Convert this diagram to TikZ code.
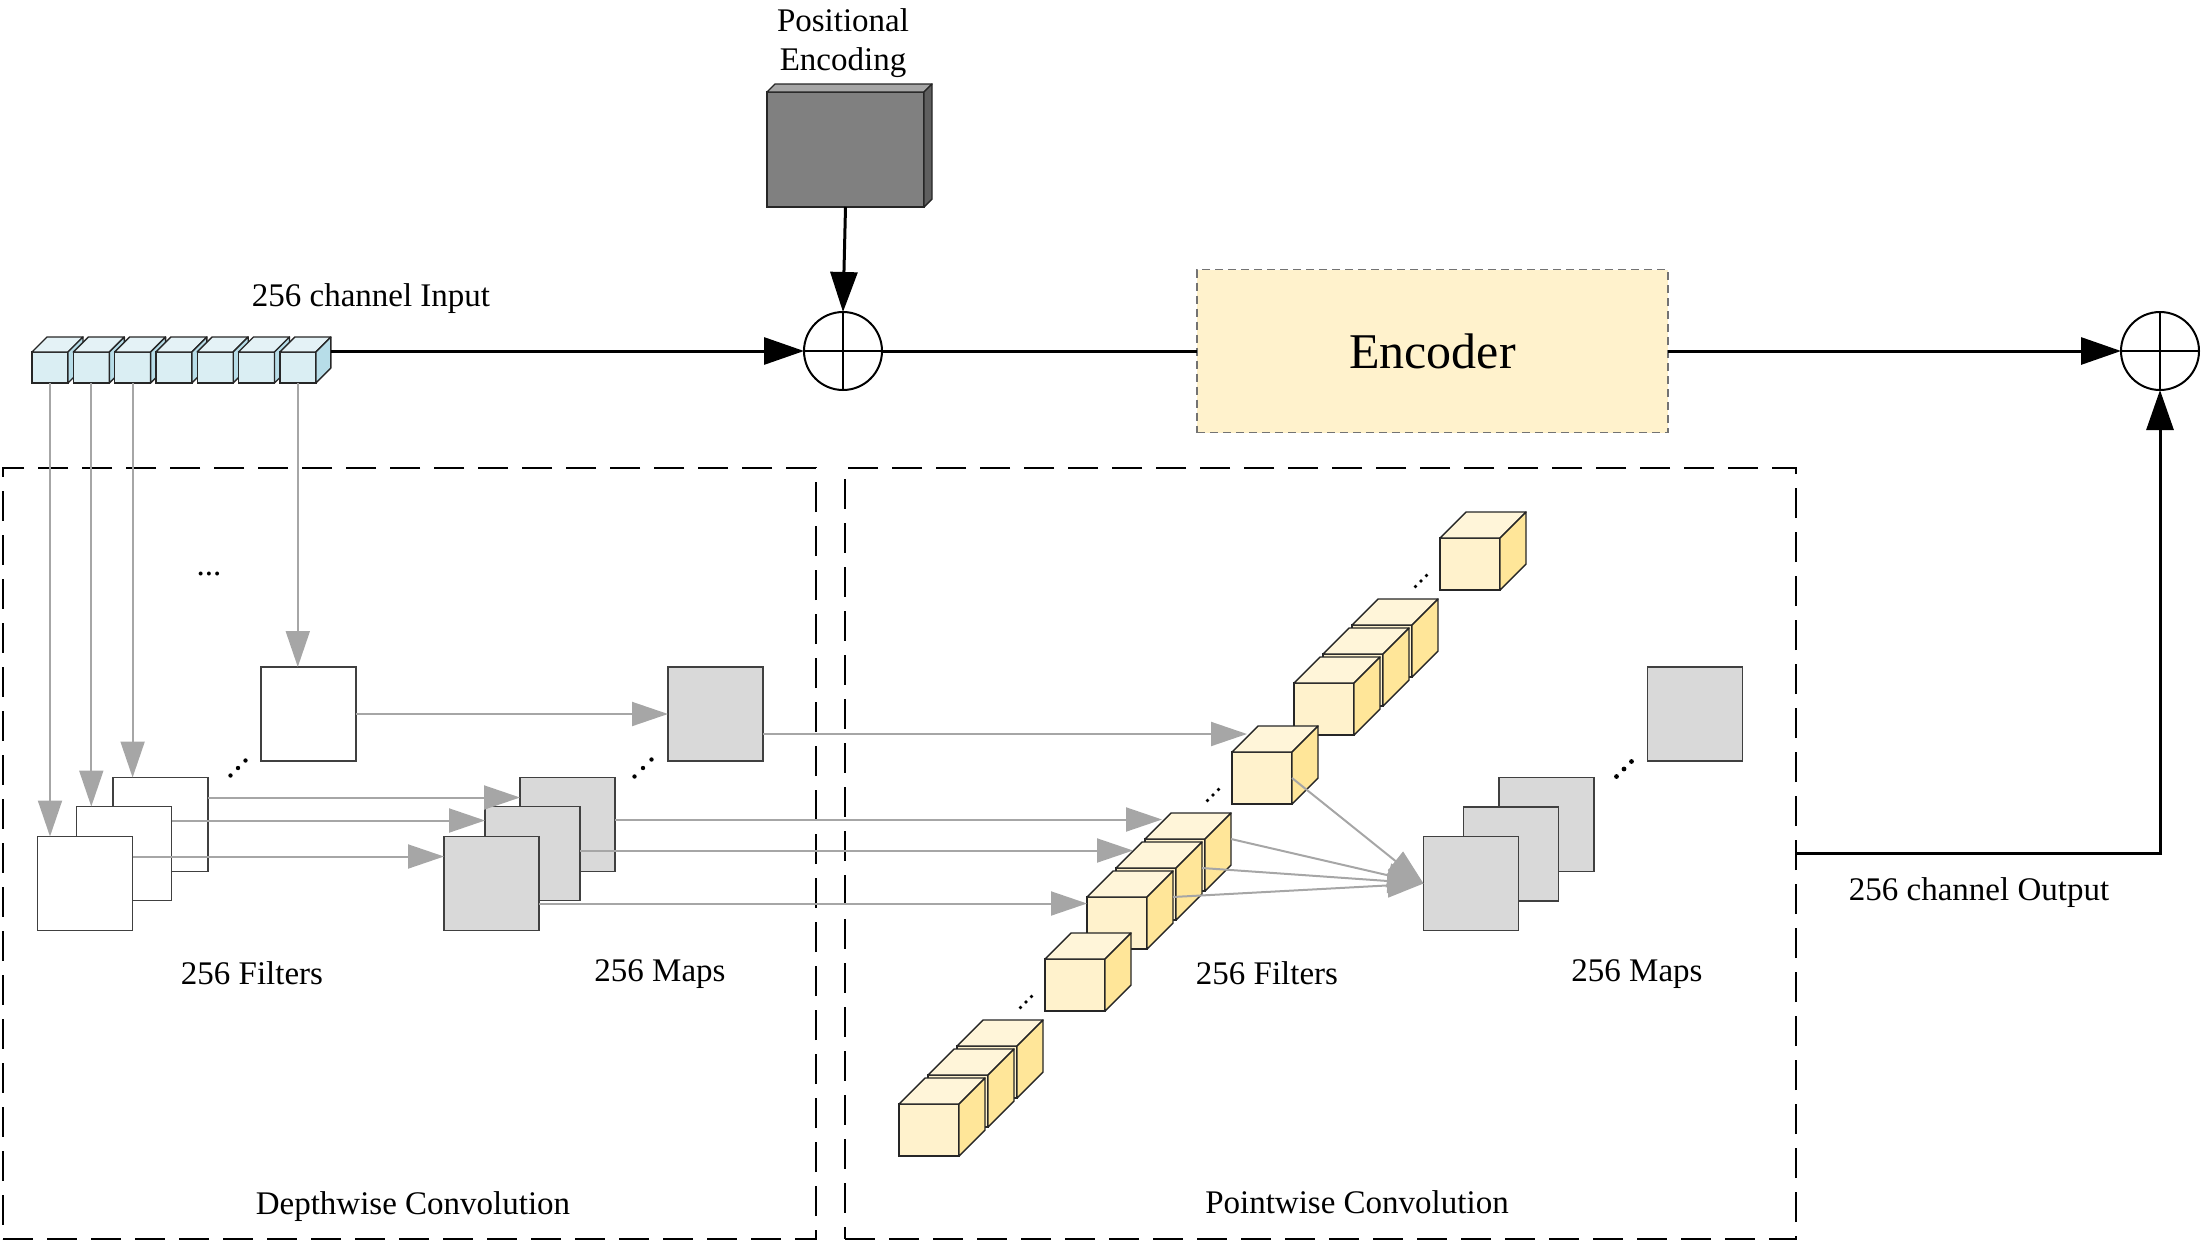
\documentclass[tikz,border=0pt]{standalone}
\usepackage{fontspec}
\setmainfont{Liberation Serif}
\usetikzlibrary{arrows.meta,calc}
\definecolor{inF}{HTML}{DAEEF3}
\definecolor{inT}{HTML}{E4F2F6}
\definecolor{inS}{HTML}{B7DDE8}
\definecolor{yF}{HTML}{FFF2CC}
\definecolor{yT}{HTML}{FFF5D9}
\definecolor{yS}{HTML}{FFE699}
\definecolor{mapG}{HTML}{D9D9D9}
\definecolor{arrG}{HTML}{A6A6A6}
\definecolor{peF}{HTML}{808080}
\definecolor{peT}{HTML}{A6A6A6}
\definecolor{peS}{HTML}{5F5F5F}
\newcommand{\mkcube}[9]{%
  \node[face, fill=#7, minimum width=#4*0.5pt, minimum height=#5*0.5pt, anchor=north west] (#1) at (#2,#3) {};
  \draw[facel, fill=#8] (#1.north west) -- ++(#6,-#6) -- ($(#1.north east)+(#6,-#6)$) -- (#1.north east) -- cycle;
  \draw[facel, fill=#9] (#1.north east) -- ++(#6,-#6) -- ($(#1.south east)+(#6,-#6)$) -- (#1.south east) -- cycle;
}
\newcommand{\diagdots}[4]{\foreach \k in {-1,0,1} {\fill ({#1+\k*#3},{#2-\k*#3}) circle (#4);}}
\tikzset{
  face/.style={draw=black!85, line width=0.7pt, inner sep=0pt, outer sep=0pt},
  facel/.style={draw=black!85, line width=0.7pt, line join=round},
  sq/.style={draw=black!75, line width=0.8pt, minimum width=47.5pt, minimum height=47pt, inner sep=0pt, outer sep=0pt},
  wbox/.style={sq, fill=white},
  gbox/.style={sq, fill=mapG},
  garr/.style={draw=arrG, line width=1pt, -{Triangle[length=18pt,width=12pt]}},
  gline/.style={draw=arrG, line width=1pt},
  barr/.style={line width=1.5pt, -{Triangle[length=20pt,width=13.5pt]}},
  bline/.style={line width=1.5pt},
  region/.style={draw, line width=1pt, dash pattern=on 15pt off 7pt, inner sep=0pt, outer sep=0pt},
  plus/.style={circle, draw, line width=1pt, minimum size=39pt, inner sep=0pt, outer sep=0pt, fill=white,
    path picture={\draw[line width=0.6pt] (path picture bounding box.north) -- (path picture bounding box.south) (path picture bounding box.west) -- (path picture bounding box.east);}},
  lbl/.style={font=\fontsize{16.5}{19.5}\selectfont, inner sep=0pt, align=center}
}
\begin{document}
\begin{tikzpicture}[x=0.5pt,y=-0.5pt]
\useasboundingbox (0,0) rectangle (2202,1242);
% regions
\node[region, minimum width=406.5pt, minimum height=385.5pt] (dw) at (409.5,853.5) {};
\node[region, minimum width=475.5pt, minimum height=385.5pt] (pw) at (1320.5,853.5) {};
% labels
\node[lbl] (lpe) at (843,43) {Positional\\Encoding};
\node[lbl] (lin) at (371,299) {256 channel Input};
\node[lbl] (ldf) at (252,973) {256 Filters};
\node[lbl] (ldm) at (660,974) {256 Maps};
\node[lbl] (lpf) at (1267,973) {256 Filters};
\node[lbl] (lpm) at (1637,974) {256 Maps};
\node[lbl] (ldw) at (413,1207) {Depthwise Convolution};
\node[lbl] (lpw) at (1357,1202) {Pointwise Convolution};
\node[lbl] (lout) at (1979,893) {256 channel Output};
\node[lbl, anchor=base] (hdots) at (209,575) {...};
% top row
\mkcube{pe}{767}{92}{157}{115}{8}{peF}{peT}{peS}
\node[plus] (c1) at (843,351) {};
\node[plus] (c2) at (2160,351) {};
\node[draw=black!55, dash pattern=on 4pt off 2.5pt, line width=0.6pt, fill=yF, minimum width=235.5pt, minimum height=81.5pt, inner sep=0pt, outer sep=0pt, font=\fontsize{25}{30}\selectfont] (enc) at (1432.5,351) {Encoder};
\foreach \i in {1,...,7} {
  \pgfmathsetmacro\xx{32+41.3*(\i-1)}
  \mkcube{in\i}{\xx}{352}{36}{31}{15}{inF}{inT}{inS}
}
\coordinate (ins) at ($(in7.east)+(15,-15)$);
\draw[barr] (ins |- c1.west) -- (c1.west);
\draw[barr] (pe.south) -- (c1.north);
\draw[bline] (c1.east) -- (enc.west);
\draw[barr] (enc.east) -- (c2.west);
\draw[barr] (pw.east) -| (c2.south);
% depthwise boxes
\node[wbox] (dtop) at (308.5,714) {};
\node[wbox] (fb) at (160.5,824.5) {};
\node[wbox] (fm) at (124,853.5) {};
\node[wbox] (ff) at (85,883.5) {};
\node[gbox] (mtop) at (715.5,714) {};
\node[gbox] (mb) at (567.5,824.5) {};
\node[gbox] (mm) at (532.5,853.5) {};
\node[gbox] (mf) at (491.5,883.5) {};
% input to filters
\draw[garr] (in1.south) -- (in1.south |- ff.north);
\draw[garr] (in2.south) -- (in2.south |- fm.north);
\draw[garr] (in3.south) -- (in3.south |- fb.north);
\draw[garr] (in7.south) -- (in7.south |- dtop.north);
% filters to maps
\draw[garr] (dtop.east) -- (mtop.west);
\draw[garr] ([yshift=-10pt]fb.north east) -- ([yshift=-10pt]mb.north west);
\draw[garr] ([yshift=-7pt]fm.north east) -- ([yshift=-7pt]mm.north west);
\draw[garr] ([yshift=-10pt]ff.north east) -- ([yshift=-10pt]mf.north west);
% pointwise cubes
\mkcube{T}{1440}{538}{60}{52}{26}{yF}{yT}{yS}
\mkcube{C3}{1352}{625}{60}{52}{26}{yF}{yT}{yS}
\mkcube{C2}{1323}{654}{60}{52}{26}{yF}{yT}{yS}
\mkcube{C1}{1294}{683}{60}{52}{26}{yF}{yT}{yS}
\mkcube{S}{1232}{752}{60}{52}{26}{yF}{yT}{yS}
\mkcube{M3}{1145}{839}{60}{52}{26}{yF}{yT}{yS}
\mkcube{M2}{1116}{868}{60}{52}{26}{yF}{yT}{yS}
\mkcube{M1}{1087}{897}{60}{52}{26}{yF}{yT}{yS}
\mkcube{L}{1045}{959}{60}{52}{26}{yF}{yT}{yS}
\mkcube{B3}{957}{1046}{60}{52}{26}{yF}{yT}{yS}
\mkcube{B2}{928}{1075}{60}{52}{26}{yF}{yT}{yS}
\mkcube{B1}{899}{1104}{60}{52}{26}{yF}{yT}{yS}
% pointwise maps
\node[gbox] (pm3) at (1546.5,824.5) {};
\node[gbox] (pm2) at (1511,854) {};
\node[gbox] (pm1) at (1471,883.5) {};
\node[gbox] (pmtop) at (1695,714) {};
% maps to cubes
\coordinate (sTop) at ([yshift=-10pt]mtop.east);
\coordinate (tS) at ($(S.north west)+(15,-18)$);
\draw[garr] (sTop) -- (sTop -| tS);
\coordinate (sB) at ([yshift=-21pt]mb.north east);
\coordinate (tM3) at ($(M3.north west)+(17,-21)$);
\draw[garr] (sB) -- (sB -| tM3);
\coordinate (sM) at ([yshift=-22pt]mm.north east);
\coordinate (tM2) at ($(M2.north west)+(17,-18)$);
\draw[garr] (sM) -- (sM -| tM2);
\coordinate (sF) at ([yshift=-33.5pt]mf.north east);
\draw[garr] (sF) -- (sF -| M1.west);
% converging
\draw[garr] (S.east) -- (pm1.west);
\draw[garr] ($(M3.north east)+(26,0)$) -- (pm1.west);
\draw[garr] ($(M2.north east)+(26,0)$) -- (pm1.west);
\draw[garr] ($(M1.north east)+(26,0)$) -- (pm1.west);
% dots
\diagdots{238}{768}{7.5}{1.1pt}
\diagdots{643}{768}{8.5}{1.1pt}
\diagdots{1624}{769}{7.5}{1.2pt}
\diagdots{1421}{581}{5.5}{0.9pt}
\diagdots{1213}{795}{5.5}{0.9pt}
\diagdots{1026}{1002}{5.5}{0.9pt}
\end{tikzpicture}
\end{document}
